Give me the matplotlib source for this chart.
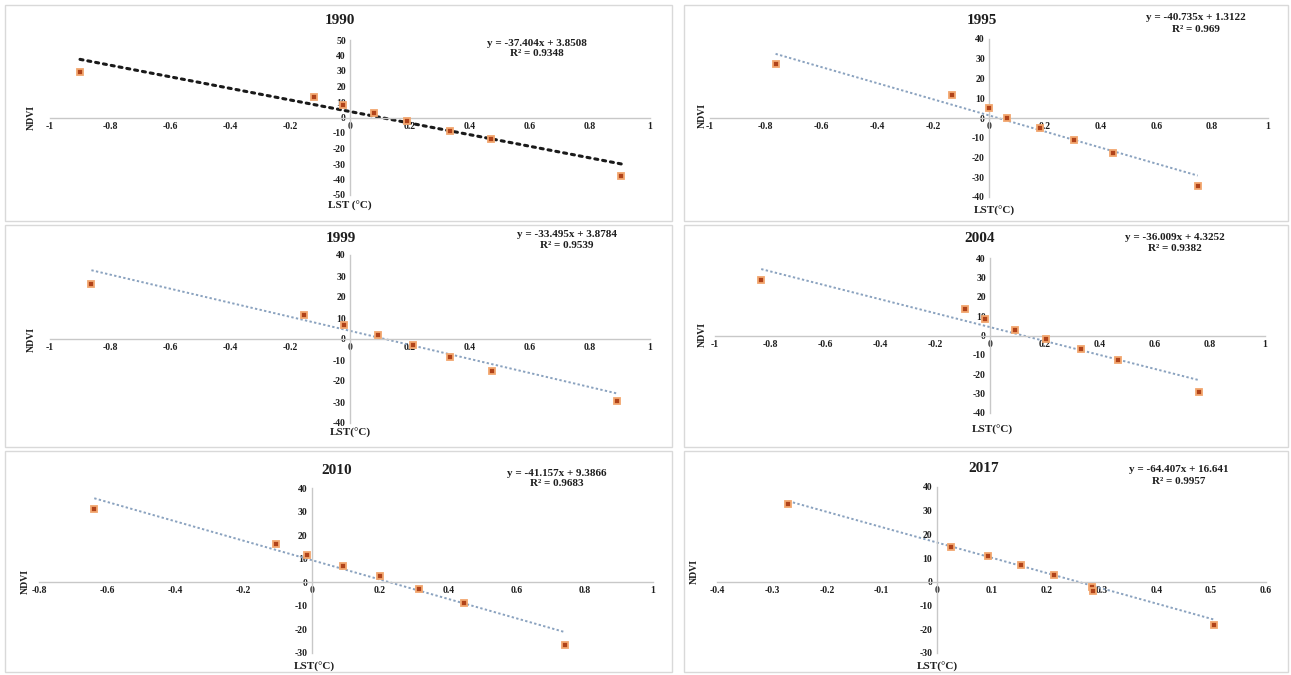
import matplotlib
matplotlib.use("Agg")
import matplotlib.pyplot as plt
from matplotlib.patches import Rectangle
import numpy as np

W, H = 1291, 675

# ---------------- data ----------------
years = ["1990", "1995", "1999", "2004", "2010", "2017"]

lst_1990 = [-0.90, -0.119, -0.023, 0.08, 0.19, 0.335, 0.47, 0.905]
ndvi_1990 = [29.6, 13.0, 8.1, 2.7, -2.0, -8.5, -14.0, -38.0]

lst_1995 = [-0.765, -0.131, 0.0, 0.066, 0.184, 0.306, 0.446, 0.748]
ndvi_1995 = [27.2, 11.6, 5.3, 0.25, -5.3, -10.9, -17.7, -34.5]

lst_1999 = [-0.862, -0.152, -0.02, 0.094, 0.211, 0.334, 0.475, 0.89]
ndvi_1999 = [26.2, 11.4, 6.7, 1.9, -2.9, -8.4, -15.1, -29.4]

lst_2004 = [-0.832, -0.092, -0.017, 0.091, 0.203, 0.33, 0.464, 0.76]
ndvi_2004 = [28.5, 13.8, 8.6, 2.9, -1.7, -6.9, -12.6, -29.4]

lst_2010 = [-0.638, -0.105, -0.013, 0.091, 0.2, 0.314, 0.445, 0.742]
ndvi_2010 = [31.3, 16.1, 11.5, 6.8, 2.5, -2.7, -8.8, -26.7]

lst_2017 = [-0.27, 0.026, 0.093, 0.153, 0.213, 0.283, 0.285, 0.505]
ndvi_2017 = [32.7, 14.7, 10.7, 6.9, 3.0, -2.0, -4.0, -18.0]

slopes = [-37.404, -40.735, -33.495, -36.009, -41.157, -64.407]
intercepts = [3.8508, 1.3122, 3.8784, 4.3252, 9.3866, 16.641]
equations = ["y = -37.404x + 3.8508", "y = -40.735x + 1.3122",
             "y = -33.495x + 3.8784", "y = -36.009x + 4.3252",
             "y = -41.157x + 9.3866", "y = -64.407x + 16.641"]
r2_labels = ["R² = 0.9348", "R² = 0.969", "R² = 0.9539",
             "R² = 0.9382", "R² = 0.9683", "R² = 0.9957"]

x_ranges = [(-1, 1), (-1, 1), (-1, 1), (-1, 1), (-0.8, 1), (-0.4, 0.6)]
x_steps = [0.2, 0.2, 0.2, 0.2, 0.2, 0.1]
y_ranges = [(-50, 50), (-40, 40), (-40, 40), (-40, 40), (-30, 40), (-30, 40)]

xlabel_text = ["LST (°C)", "LST(°C)", "LST(°C)", "LST(°C)", "LST(°C)", "LST(°C)"]
ylabel_text = "NDVI"

xs = [lst_1990, lst_1995, lst_1999, lst_2004, lst_2010, lst_2017]
ys = [ndvi_1990, ndvi_1995, ndvi_1999, ndvi_2004, ndvi_2010, ndvi_2017]

# ---------------- layout (pixels) ----------------
axes_px = [(50, 650, 40, 195), (710, 1268, 39, 197),
           (50, 650, 255, 423), (715, 1265, 258, 413),
           (39, 653, 488, 653), (717, 1266, 487, 653)]
title_px = [(340, 21), (982, 20), (341, 238), (980, 238), (337, 470), (984, 468)]
eq_px = [(537, 43), (1196, 18), (567, 235), (1175, 238), (557, 473), (1179, 470)]
xl_px = [(350, 206), (994, 211), (350, 433), (992, 430), (314, 667), (937, 667)]
yl_px = [(31, 117), (702, 115), (31, 340), (702, 335), (25, 582), (694, 572)]
boxes_px = [(5, 672, 5, 221), (684, 1288, 5, 221),
            (5, 672, 225, 447), (684, 1288, 225, 447),
            (5, 672, 451, 672), (684, 1288, 451, 672)]

serif = ["Liberation Serif", "DejaVu Serif"]
txt = "#1e1e1e"

fig = plt.figure(figsize=(W / 100, H / 100), dpi=100)
fig.patch.set_facecolor("white")


def fx(px):
    return px / W


def fy(py):
    return 1 - py / H


def fmt(v, p):
    v = round(v, 2)
    if abs(v) < 1e-9:
        v = 0.0
    return "%g" % v


for (l, r, t, b) in boxes_px:
    fig.patches.append(Rectangle((fx(l), fy(b)), fx(r - l), (b - t) / H,
                                 transform=fig.transFigure, fill=False,
                                 edgecolor="#d9d9d9", linewidth=1.0))

for i in range(6):
    l, r, t, b = axes_px[i]
    ax = fig.add_axes([fx(l), fy(b), fx(r - l), (b - t) / H])
    ax.set_facecolor("none")
    x0, x1 = x_ranges[i]
    y0, y1 = y_ranges[i]
    ax.set_xlim(x0, x1)
    ax.set_ylim(y0, y1)
    ax.set_xticks(np.round(np.arange(x0, x1 + 1e-9, x_steps[i]), 2))
    ax.set_yticks(np.arange(y0, y1 + 1, 10))
    ax.xaxis.set_major_formatter(matplotlib.ticker.FuncFormatter(fmt))
    ax.yaxis.set_major_formatter(matplotlib.ticker.FuncFormatter(fmt))
    for s in ["top", "right"]:
        ax.spines[s].set_visible(False)
    ax.spines["left"].set_position(("data", 0))
    ax.spines["bottom"].set_position(("data", 0))
    for s in ["left", "bottom"]:
        ax.spines[s].set_color("#c8c8c8")
        ax.spines[s].set_linewidth(1.0)
    ax.tick_params(length=0, pad=3)
    for lab in ax.get_xticklabels() + ax.get_yticklabels():
        lab.set_fontfamily(serif)
        lab.set_fontweight("bold")
        lab.set_fontsize(7)
        lab.set_color(txt)

    xd = np.array(xs[i])
    yd = np.array(ys[i])
    xt = np.array([xd.min(), xd.max()])
    yt = slopes[i] * xt + intercepts[i]
    if i == 0:
        ax.plot(xt, yt, color="#1a1a1a", linestyle=(0, (1, 1.6)),
                linewidth=2.2, dash_capstyle="round", zorder=2)
    else:
        ax.plot(xt, yt, color="#8aa2bf", linestyle=(0, (1.2, 1.2)),
                linewidth=1.4, zorder=2)
    ax.plot(xd, yd, linestyle="none", marker="s", markersize=4.5,
            markerfacecolor="#b0431a", markeredgecolor="#f2a66e",
            markeredgewidth=1.3, zorder=3)

    fig.text(fx(title_px[i][0]), fy(title_px[i][1]), years[i], ha="center",
             va="center", fontsize=11, fontweight="bold", family=serif,
             color=txt)
    fig.text(fx(eq_px[i][0]), fy(eq_px[i][1]), equations[i], ha="center",
             va="center", fontsize=8, fontweight="bold", family=serif,
             color=txt)
    fig.text(fx(eq_px[i][0]), fy(eq_px[i][1] + 11), r2_labels[i], ha="center",
             va="center", fontsize=8, fontweight="bold", family=serif,
             color=txt)
    fig.text(fx(xl_px[i][0]), fy(xl_px[i][1]), xlabel_text[i], ha="center",
             va="center", fontsize=8, fontweight="bold", family=serif,
             color=txt)
    fig.text(fx(yl_px[i][0]), fy(yl_px[i][1]), ylabel_text, ha="center",
             va="center", fontsize=7, fontweight="bold", family=serif,
             rotation=90, color=txt)

fig.savefig("out.png", dpi=100)
